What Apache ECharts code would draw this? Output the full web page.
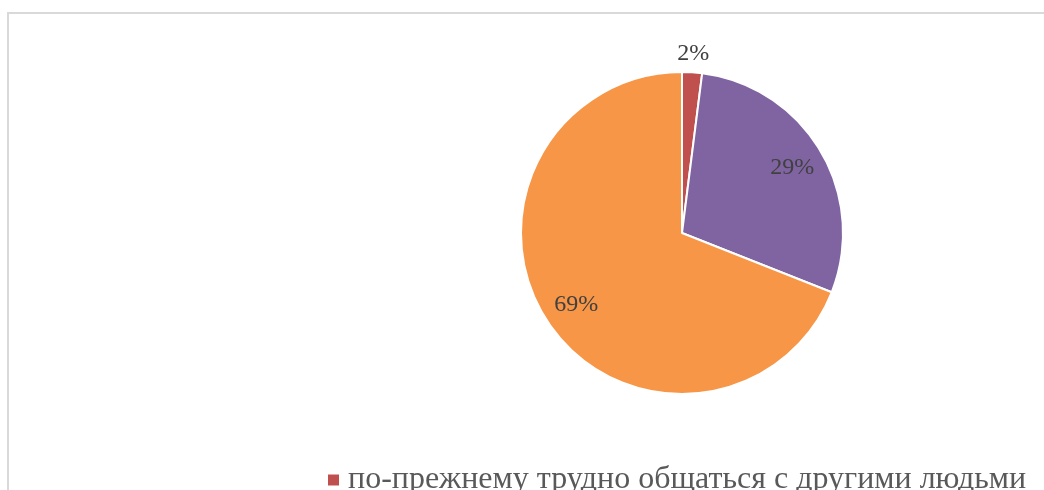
<!DOCTYPE html>
<html>
<head>
<meta charset="utf-8">
<style>
  html, body { margin: 0; padding: 0; background: #fff; }
  #chart { width: 1044px; height: 490px; }
</style>
<script src="https://cdn.jsdelivr.net/npm/echarts@6/dist/echarts.min.js"></script>
</head>
<body>
<div id="chart"></div>
<script>
// категории и доли (%)
const categories = [
  'по-прежнему трудно общаться с другими людьми',
  'стало немного легче общаться с другими людьми',
  'стало значительно легче общаться с другими людьми'
];
const values = [2, 29, 69];
const colors = ['#c0504d', '#8064a2', '#f79646'];

const chart = echarts.init(document.getElementById('chart'));

const pieData = categories.map((name, i) => ({ name: name, value: values[i] }));
const labelFont = { fontFamily: '"Liberation Serif", "Times New Roman", serif', fontSize: 24, color: '#404040' };

const option = {
  animation: false,
  color: colors,
  graphic: [{
    type: 'rect',
    silent: true,
    shape: { x: 8, y: 13, width: 1200, height: 700 },
    style: { fill: 'none', stroke: '#d9d9d9', lineWidth: 2 }
  }],
  legend: {
    data: categories,
    orient: 'vertical',
    left: 326,
    top: 464,
    height: 400,
    padding: 0,
    icon: 'rect',
    itemWidth: 13,
    itemHeight: 13,
    itemGap: 12,
    textStyle: {
      fontFamily: '"Liberation Serif", "Times New Roman", serif',
      fontSize: 32,
      color: '#595959',
      padding: [0, 0, 0, 3]
    }
  },
  series: [
    {
      // сам круг
      type: 'pie',
      center: [682, 233],
      radius: [0, 161],
      startAngle: 90,
      clockwise: true,
      avoidLabelOverlap: false,
      itemStyle: { borderColor: '#fff', borderWidth: 2 },
      label: { show: false },
      labelLine: { show: false },
      emphasis: { disabled: true },
      data: pieData
    },
    {
      // подписи внутри секторов
      type: 'pie',
      silent: true,
      center: [682, 233],
      radius: [102, 148],
      startAngle: 90,
      clockwise: true,
      avoidLabelOverlap: false,
      itemStyle: { color: 'rgba(0,0,0,0)' },
      label: Object.assign({ show: true, position: 'inside', formatter: '{d}%' }, labelFont),
      labelLine: { show: false },
      emphasis: { disabled: true },
      data: pieData.map((d, i) => ({ name: d.name, value: d.value, label: { show: i !== 0 } }))
    },
    {
      // подпись маленького сектора снаружи
      type: 'pie',
      silent: true,
      center: [682, 233],
      radius: [166, 188],
      startAngle: 90,
      clockwise: true,
      avoidLabelOverlap: false,
      itemStyle: { color: 'rgba(0,0,0,0)' },
      label: Object.assign({ show: true, position: 'inside', formatter: '{d}%' }, labelFont),
      labelLine: { show: false },
      emphasis: { disabled: true },
      data: pieData.map((d, i) => ({ name: d.name, value: d.value, label: { show: i === 0 } }))
    }
  ]
};

chart.setOption(option);
</script>
</body>
</html>
